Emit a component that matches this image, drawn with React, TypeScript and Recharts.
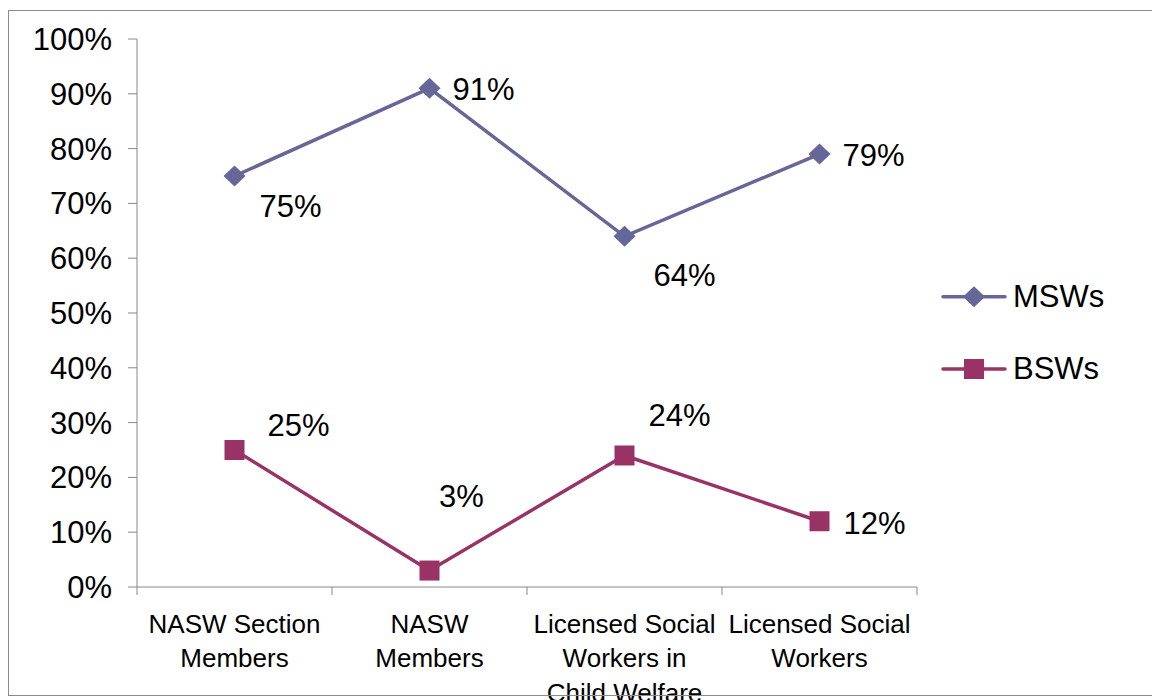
import React from "react";
import { LineChart, Line, XAxis, YAxis, Legend, LabelList } from "recharts";

// categories and their wrapped tick label lines
const categories = [
  "NASW Section Members",
  "NASW Members",
  "Licensed Social Workers in Child Welfare",
  "Licensed Social Workers",
];
const categoryLines = [
  ["NASW Section", "Members"],
  ["NASW", "Members"],
  ["Licensed Social", "Workers in", "Child Welfare"],
  ["Licensed Social", "Workers"],
];

const mswValues = [75, 91, 64, 79];
const bswValues = [25, 3, 24, 12];

const yTicks = [0, 10, 20, 30, 40, 50, 60, 70, 80, 90, 100];

// data label nudges (px from the point)
const mswLabelShift = [[56, 30], [54, 1], [60, 39], [54, 1]];
const bswLabelShift = [[64, -25], [32, -74], [55, -40], [55, 2]];

const MSW_COLOR = "#666699";
const BSW_COLOR = "#993366";
const AXIS_COLOR = "#888888";
const FONT = "'Liberation Sans', Arial, sans-serif";

const data = categories.map((c, i) => ({
  category: c,
  msw: mswValues[i],
  bsw: bswValues[i],
}));

const Diamond = ({ cx, cy, fill }: any) =>
  cx == null ? null : (
    <polygon
      points={`${cx},${cy - 10.5} ${cx + 11},${cy} ${cx},${cy + 10.5} ${cx - 11},${cy}`}
      fill={fill}
    />
  );

const Square = ({ cx, cy, fill }: any) =>
  cx == null ? null : <rect x={cx - 10} y={cy - 10} width={20} height={20} fill={fill} />;

const CategoryTick = (props: any) => {
  const { x, y, index, width, visibleTicksCount } = props;
  const band = (width || 780) / (visibleTicksCount || 4);
  const lines = categoryLines[index] || [];
  const left = x - band / 2;
  return (
    <g>
      <line x1={left} y1={y} x2={left} y2={y + 8} stroke={AXIS_COLOR} strokeWidth={1} />
      {index === categoryLines.length - 1 && (
        <line x1={left + band} y1={y} x2={left + band} y2={y + 8} stroke={AXIS_COLOR} strokeWidth={1} />
      )}
      <text x={x} y={y + 46} textAnchor="middle" fontSize={26} fontFamily={FONT} fill="#000">
        {lines.map((t, i) => (
          <tspan key={i} x={x} dy={i === 0 ? 0 : 34.4}>
            {t}
          </tspan>
        ))}
      </text>
    </g>
  );
};

const makeLabel = (shifts: number[][]) => (props: any) => {
  const { x, y, value, index } = props;
  const [dx, dy] = shifts[index] || [0, 0];
  return (
    <text
      x={x + dx}
      y={y + dy}
      dy="0.35em"
      textAnchor="middle"
      fontSize={31}
      fontFamily={FONT}
      fill="#000"
    >
      {value}%
    </text>
  );
};

const legendRows: Record<string, number> = { msw: 26.7, bsw: 99 };

const LegendBox = (props: any) => {
  const items = props.payload || [];
  return (
    <svg width={220} height={130}>
      {items.map((it: any) => {
        const cy = legendRows[it.dataKey] ?? 26.7;
        return (
          <g key={it.dataKey}>
            <line x1={3} y1={cy} x2={65} y2={cy} stroke={it.color} strokeWidth={3.5} strokeLinecap="round" />
            {it.dataKey === "msw" ? (
              <Diamond cx={34} cy={cy} fill={it.color} />
            ) : (
              <Square cx={34} cy={cy} fill={it.color} />
            )}
            <text x={73} y={cy - 1} dy="0.35em" fontSize={31} fontFamily={FONT} fill="#000">
              {it.value}
            </text>
          </g>
        );
      })}
    </svg>
  );
};

export default function App() {
  return (
    <div style={{ position: "relative", width: 1152, height: 692 }}>
      <LineChart
        width={1152}
        height={692}
        data={data}
        margin={{ top: 31, right: 243, left: 0, bottom: 0 }}
      >
        <XAxis
          dataKey="category"
          scale="band"
          interval={0}
          height={113}
          tickLine={false}
          tickSize={0}
          tickMargin={0}
          axisLine={{ stroke: AXIS_COLOR, strokeWidth: 1 }}
          tick={<CategoryTick />}
        />
        <YAxis
          width={129}
          domain={[0, 100]}
          ticks={yTicks}
          interval={0}
          tickFormatter={(v) => v + "%"}
          tickSize={9}
          tickMargin={16}
          tickLine={{ stroke: AXIS_COLOR }}
          axisLine={{ stroke: AXIS_COLOR, strokeWidth: 1 }}
          tick={{ fill: "#000", fontSize: 31, fontFamily: FONT }}
        />
        <Legend
          layout="vertical"
          align="center"
          verticalAlign="middle"
          width={220}
          height={130}
          wrapperStyle={{ left: 932, top: 262 }}
          content={<LegendBox />}
        />
        <Line
          name="MSWs"
          dataKey="msw"
          stroke={MSW_COLOR}
          strokeWidth={3.5}
          dot={<Diamond fill={MSW_COLOR} />}
          activeDot={false}
          isAnimationActive={false}
        >
          <LabelList dataKey="msw" content={makeLabel(mswLabelShift)} />
        </Line>
        <Line
          name="BSWs"
          dataKey="bsw"
          stroke={BSW_COLOR}
          strokeWidth={3.5}
          dot={<Square fill={BSW_COLOR} />}
          activeDot={false}
          isAnimationActive={false}
        >
          <LabelList dataKey="bsw" content={makeLabel(bswLabelShift)} />
        </Line>
      </LineChart>
      <div
        style={{
          position: "absolute",
          left: 0,
          top: 2,
          width: 1152,
          height: 686,
          boxSizing: "border-box",
          borderTop: "1.5px solid #8a8a8a",
          borderLeft: "1.5px solid #8a8a8a",
          borderBottom: "1.5px solid #8a8a8a",
          pointerEvents: "none",
        }}
      />
    </div>
  );
}
